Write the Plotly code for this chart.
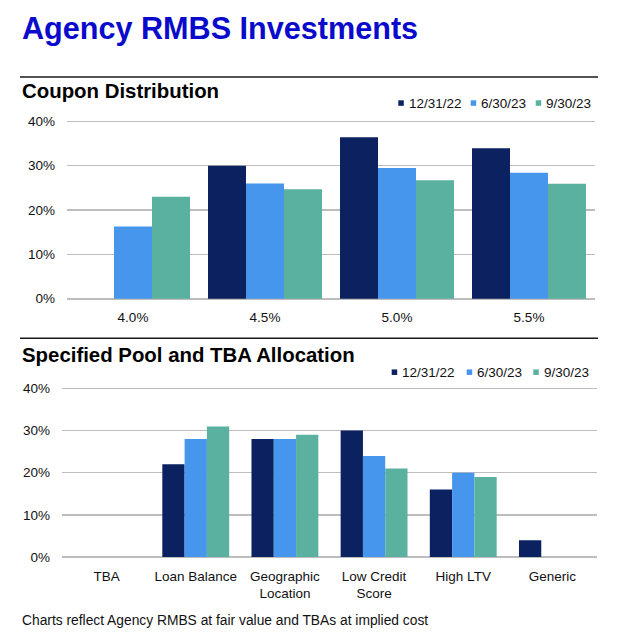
import plotly.graph_objects as go

W, H = 640, 635
FONT = "Liberation Sans, Arial, Helvetica, sans-serif"

# ---------------- data ----------------
series_names = ["12/31/22", "6/30/23", "9/30/23"]
series_colors = ["#0B2160", "#4796EE", "#5BB1A0"]

coupon_categories = ["4.0%", "4.5%", "5.0%", "5.5%"]
coupon_1231_22 = [0.0, 30.0, 36.4, 33.9]
coupon_0630_23 = [16.3, 26.0, 29.5, 28.4]
coupon_0930_23 = [23.0, 24.7, 26.7, 25.9]

pool_categories = ["TBA", "Loan Balance", "Geographic<br>Location",
                   "Low Credit<br>Score", "High LTV", "Generic"]
pool_1231_22 = [0, 22, 28, 30, 16, 4]
pool_0630_23 = [0, 28, 28, 24, 20, 0]
pool_0930_23 = [0, 31, 29, 21, 19, 0]

y_tick_vals = [0, 10, 20, 30, 40]
y_tick_text = ["0%", "10%", "20%", "30%", "40%"]

title_text = "Agency RMBS Investments"
top_title = "Coupon Distribution"
bottom_title = "Specified Pool and TBA Allocation"
footer_text = "Charts reflect Agency RMBS at fair value and TBAs at implied cost"


def px_x(p):
    return p / W


def px_y(p):
    return 1 - p / H


def nz(vals):
    return [v if v else None for v in vals]


fig = go.Figure()

top_series = [coupon_1231_22, coupon_0630_23, coupon_0930_23]
bot_series = [pool_1231_22, pool_0630_23, pool_0930_23]

w_top = 38 / 132
w_bot = 22.3 / 89.2
for i, (name, col) in enumerate(zip(series_names, series_colors)):
    fig.add_trace(go.Bar(
        x=coupon_categories, y=nz(top_series[i]), name=name,
        marker=dict(color=col, line=dict(width=0)),
        width=w_top, offset=-1.5 * w_top + i * w_top,
        xaxis="x", yaxis="y", showlegend=False))
    fig.add_trace(go.Bar(
        x=pool_categories, y=nz(bot_series[i]), name=name,
        marker=dict(color=col, line=dict(width=0)),
        width=w_bot, offset=-1.5 * w_bot + i * w_bot,
        xaxis="x2", yaxis="y2", showlegend=False))

yax = dict(range=[-0.5, 41], tickvals=y_tick_vals, ticktext=y_tick_text,
           showgrid=True, gridcolor="#BDBDBD", gridwidth=1.5,
           zeroline=True, zerolinecolor="#BDBDBD", zerolinewidth=1.5,
           showline=False, ticks="", ticklabelstandoff=11,
           tickfont=dict(family=FONT, size=13.5, color="#111111"),
           fixedrange=True)
xax = dict(type="category", showgrid=False, zeroline=False, showline=False,
           ticks="", ticklabelstandoff=7,
           tickfont=dict(family=FONT, size=13.5, color="#111111"))

# top plot pixel geometry
t_zero, t_per = 300.0, 4.5
b_zero, b_per = 562.0, 4.275

fig.update_layout(
    width=W, height=H,
    margin=dict(l=0, r=0, t=0, b=0),
    paper_bgcolor="white", plot_bgcolor="white",
    barmode="group",
    showlegend=False,
    xaxis=dict(xax, domain=[px_x(67), px_x(595)], anchor="y"),
    yaxis=dict(yax, domain=[px_y(t_zero + 0.5 * t_per), px_y(t_zero - 41 * t_per)],
               anchor="x"),
    xaxis2=dict(xax, domain=[px_x(62), px_x(597)], anchor="y2"),
    yaxis2=dict(yax, domain=[px_y(b_zero + 0.5 * b_per), px_y(b_zero - 41 * b_per)],
                anchor="x2"),
)

annotations = [
    dict(text=f"<b>{title_text}</b>", x=px_x(20), y=px_y(25.5),
         font=dict(family=FONT, size=30.6, color="#0A0ACC")),
    dict(text=f"<b>{top_title}</b>", x=px_x(20), y=px_y(89),
         font=dict(family=FONT, size=20.4, color="#000000")),
    dict(text=f"<b>{bottom_title}</b>", x=px_x(20), y=px_y(357.5),
         font=dict(family=FONT, size=20.4, color="#000000")),
    dict(text=footer_text, x=px_x(20), y=px_y(626),
         font=dict(family=FONT, size=13.8, color="#111111")),
]

shapes = [
    dict(type="line", xref="paper", yref="paper", x0=px_x(20), x1=px_x(598),
         y0=px_y(75), y1=px_y(75), line=dict(color="#1a1a1a", width=1.5)),
    dict(type="line", xref="paper", yref="paper", x0=px_x(20), x1=px_x(598),
         y0=px_y(340), y1=px_y(340), line=dict(color="#1a1a1a", width=1.5)),
]

# legends (custom, compact)
legend_rows = [
    (101.5, [398.3, 470.7, 535.7]),
    (374.5, [391.7, 466.7, 533.3]),
]
for ly, xs in legend_rows:
    for name, col, lx in zip(series_names, series_colors, xs):
        shapes.append(dict(type="rect", xref="paper", yref="paper",
                           x0=px_x(lx), x1=px_x(lx + 5.5),
                           y0=px_y(ly + 2.8), y1=px_y(ly - 2.8),
                           fillcolor=col, line=dict(width=0)))
        annotations.append(dict(text=name, x=px_x(lx + 8.5), y=px_y(ly),
                                font=dict(family=FONT, size=13.5, color="#111111")))

for a in annotations:
    a.update(xref="paper", yref="paper", xanchor="left", yanchor="middle",
             showarrow=False)

fig.update_layout(annotations=annotations, shapes=shapes)

fig.write_html("out.html",
               config={"displayModeBar": False, "staticPlot": True},
               post_script="document.body.style.margin='0';"
                           "document.body.style.padding='0';"
                           "document.body.style.overflow='hidden';")
